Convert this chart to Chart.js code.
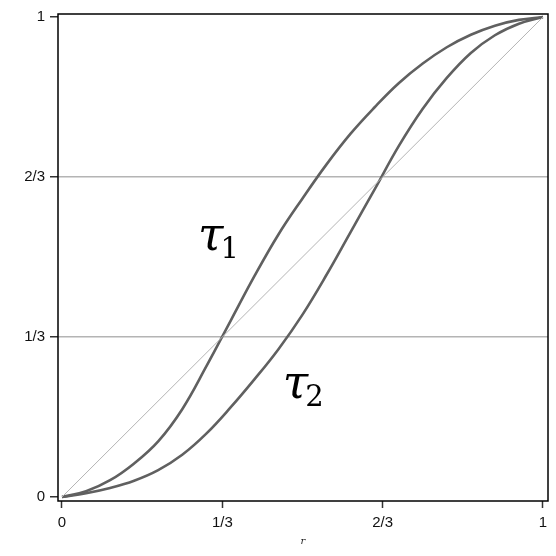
<!DOCTYPE html>
<html>
<head>
<meta charset="utf-8">
<script src="https://cdn.jsdelivr.net/npm/chart.js@4/dist/chart.umd.min.js"></script>
<style>
html,body{margin:0;padding:0;background:#fff;}
#wrap{width:556px;height:556px;}
</style>
</head>
<body>
<div id="wrap"><canvas id="c" width="556" height="556"></canvas></div>
<script>
const rValues    = [0, 0.05, 0.10, 0.15, 0.20, 0.25, 0.30, 0.35, 0.40, 0.45, 0.50, 0.55, 0.60, 0.65, 0.70, 0.75, 0.80, 0.85, 0.90, 0.95, 1.0];
const tau1Values = [0, 0.012, 0.035, 0.070, 0.116, 0.183, 0.272, 0.366, 0.460, 0.547, 0.622, 0.693, 0.757, 0.812, 0.862, 0.903, 0.937, 0.963, 0.982, 0.994, 1.0];
const tau2Values = [0, 0.008, 0.019, 0.034, 0.056, 0.088, 0.132, 0.186, 0.245, 0.308, 0.380, 0.463, 0.552, 0.641, 0.731, 0.809, 0.873, 0.925, 0.962, 0.986, 1.0];
const diagX = [0, 1];
const diagY = [0, 1];
const tickValues = [0, 1/3, 2/3, 1];
const tickLabels = ['0', '1/3', '2/3', '1'];
const seriesLabels = [
  {name: 'τ', sub: '1', x: 0.283, y: 0.515},
  {name: 'τ', sub: '2', x: 0.459, y: 0.206}
];

const pts = (xs, ys) => xs.map((x, i) => ({x: x, y: ys[i]}));

const frame = {
  id: 'frame',
  afterDraw(chart) {
    const a = chart.chartArea, ctx = chart.ctx;
    ctx.save();
    ctx.strokeStyle = '#000';
    ctx.lineWidth = 1.5;
    ctx.strokeRect(a.left, a.top, a.right - a.left, a.bottom - a.top);
    ctx.restore();
  }
};

const labelsPlugin = {
  id: 'seriesText',
  afterDatasetsDraw(chart) {
    const ctx = chart.ctx, xs = chart.scales.x, ys = chart.scales.y;
    ctx.save();
    ctx.fillStyle = '#000';
    ctx.textBaseline = 'alphabetic';
    seriesLabels.forEach(l => {
      const px = xs.getPixelForValue(l.x), py = ys.getPixelForValue(l.y);
      ctx.font = 'italic 46px "DejaVu Serif"';
      ctx.fillText(l.name, px, py);
      const w = ctx.measureText(l.name).width;
      ctx.font = '29px "DejaVu Serif"';
      ctx.fillText(l.sub, px + w - 3, py + 8);
    });
    ctx.restore();
  }
};

const tickCb = (v) => { const i = tickValues.findIndex(t => Math.abs(t - v) < 1e-6); return i >= 0 ? tickLabels[i] : ''; };
const tickFont = {family: '"Liberation Sans"', size: 15};

new Chart(document.getElementById('c'), {
  type: 'line',
  data: {
    datasets: [
      {data: pts(diagX, diagY), borderColor: '#b4b4b4', borderWidth: 1, pointRadius: 0, tension: 0},
      {data: pts(rValues, tau1Values), borderColor: '#606060', borderWidth: 2.6, pointRadius: 0, tension: 0.4},
      {data: pts(rValues, tau2Values), borderColor: '#606060', borderWidth: 2.6, pointRadius: 0, tension: 0.4}
    ]
  },
  options: {
    responsive: false,
    animation: false,
    layout: {padding: {top: 14, right: 8, left: 0, bottom: 0}},
    plugins: {legend: {display: false}, tooltip: {enabled: false}},
    scales: {
      x: {
        type: 'linear', min: -0.0083, max: 1.0104,
        afterBuildTicks(scale) { scale.ticks = tickValues.map(v => ({value: v})); },
        afterFit(s) { s.height = 55; },
        border: {display: false},
        grid: {drawOnChartArea: false, drawTicks: true, tickLength: 7, tickColor: '#333', tickWidth: 1.5},
        ticks: {callback: tickCb, color: '#111', font: tickFont, autoSkip: false, maxRotation: 0, padding: 6},
        title: {display: true, text: 'r', color: '#222', font: {family: '"DejaVu Serif"', size: 10, style: 'italic'}, padding: {top: 0, bottom: 9}}
      },
      y: {
        type: 'linear', min: -0.0083, max: 1.00625,
        afterBuildTicks(scale) { scale.ticks = tickValues.map(v => ({value: v})); },
        afterFit(s) { s.width = 58; },
        border: {display: false},
        grid: {
          drawOnChartArea: true, drawTicks: true, tickLength: 8, tickColor: '#333', tickWidth: 1.5,
          color(c) { const v = c.tick ? c.tick.value : 0; return (v > 0.1 && v < 0.9) ? '#b4b4b4' : 'rgba(0,0,0,0)'; },
          lineWidth: 1.5
        },
        ticks: {callback: tickCb, color: '#111', font: tickFont, autoSkip: false, padding: 5}
      }
    }
  },
  plugins: [frame, labelsPlugin]
});
</script>
</body>
</html>
